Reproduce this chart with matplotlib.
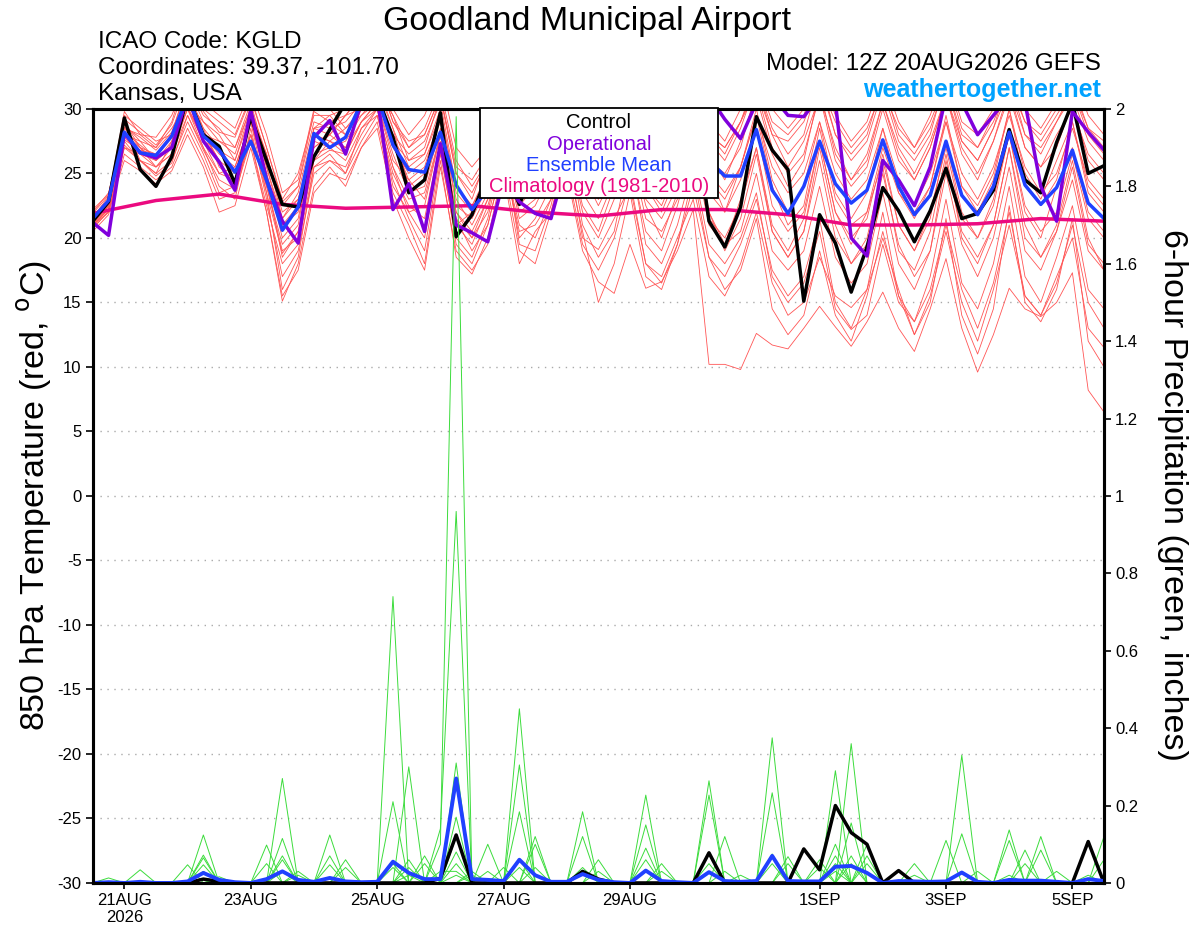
import matplotlib.pyplot as plt
from matplotlib.patches import Rectangle
import numpy as np

plt.rcParams['font.family'] = ['Liberation Sans', 'DejaVu Sans']
plt.rcParams['axes.unicode_minus'] = False

# forecast hours from 12Z 20AUG2026, every 6 h
fhr = np.arange(0, 385, 6)

# 850 hPa temperature (C)
control_t = [21.3, 22.8,
             29.3, 25.3, 24.0, 26.3, 31.0, 28.0, 27.1, 24.2, 29.4, 26.0, 22.6, 22.4,
             26.3, 28.4, 30.5, 31.5, 31.0, 27.8, 23.5, 24.5, 29.7, 20.1, 21.8, 25.0,
             25.5, 22.6, 25.5, 26.5, 27.0, 25.0, 27.5, 28.0, 26.0, 24.5, 27.0, 28.5,
             30.0, 21.3, 19.3, 22.4, 29.4, 26.8, 25.3, 15.1, 21.8, 19.6, 15.8, 19.3,
             23.9, 22.1, 19.7, 22.1, 25.4, 21.5, 21.9, 23.7, 28.4, 24.5, 23.5, 27.4,
             30.5, 25.0, 25.6]
oper_t = [21.2, 20.2,
          28.1, 26.6, 26.2, 27.0, 31.0, 27.5, 25.9, 23.7, 29.9, 24.5, 21.3, 19.6,
          27.8, 29.1, 26.5, 30.5, 31.0, 22.2, 24.2, 20.5, 27.3, 21.0, 20.4, 19.7,
          24.5, 22.8, 21.9, 21.5, 26.0, 28.0, 29.0, 30.5, 29.0, 28.0, 27.5, 29.0,
          30.5, 31.0, 29.2, 27.7, 30.5, 31.0, 29.5, 29.4, 31.0, 30.5, 20.0, 18.6,
          26.0, 24.5, 22.5, 25.5, 31.0, 30.5, 28.0, 29.5, 31.0, 30.5, 24.0, 21.3,
          29.8, 28.2, 26.8]
mean_t = [21.5, 22.9,
          28.2, 26.6, 26.4, 27.9, 31.0, 27.9, 26.8, 25.1, 27.5, 24.5, 20.6, 22.4,
          28.1, 27.0, 27.8, 30.5, 31.0, 27.2, 25.3, 25.1, 28.2, 24.1, 22.2, 23.8,
          25.0, 24.0, 24.5, 25.0, 26.0, 25.5, 26.5, 26.0, 25.5, 25.0, 26.5, 26.0,
          26.5, 26.0, 24.8, 24.8, 28.4, 23.7, 21.9, 24.0, 27.5, 24.2, 22.7, 23.7,
          27.6, 24.0, 21.8, 23.3, 27.5, 23.3, 21.8, 24.0, 28.2, 24.1, 22.6, 23.9,
          26.8, 22.7, 21.5]

# climatology, one value per day at 12Z
clim_hr = np.arange(0, 385, 24)
clim_t = [21.9, 22.9, 23.4, 22.6, 22.3, 22.4, 22.5, 22.0, 21.7,
          22.2, 22.2, 21.8, 21.0, 21.0, 21.1, 21.5, 21.3]

members_t = [
    [21.0, 22.5,
     29.0, 26.0, 25.0, 27.5, 31.5, 28.5, 27.0, 25.0, 29.5, 26.5, 22.0, 23.0,
     27.0, 28.0, 29.5, 31.0, 32.0, 28.5, 24.0, 25.0, 30.0, 21.0, 22.0, 24.0,
     28.0, 23.0, 24.5, 26.0, 29.0, 27.0, 25.0, 28.0, 30.5, 26.0, 24.0, 27.0,
     31.0, 25.0, 22.0, 25.5, 29.5, 24.0, 21.0, 22.5, 28.5, 23.0, 21.0, 22.0,
     27.0, 23.5, 22.0, 24.0, 29.0, 24.0, 22.5, 25.0, 30.0, 25.0, 23.0, 26.0,
     29.0, 24.0, 22.5],
    [21.5, 23.0,
     28.0, 27.5, 27.0, 28.5, 30.5, 29.0, 28.0, 26.0, 30.0, 25.0, 21.0, 22.0,
     28.5, 29.5, 28.0, 30.5, 31.5, 29.5, 26.0, 27.0, 31.0, 25.0, 23.0, 26.5,
     30.5, 25.0, 27.0, 28.5, 31.0, 28.5, 27.0, 29.0, 31.5, 29.0, 27.5, 29.5,
     32.0, 28.0, 27.0, 29.0, 31.5, 28.0, 25.5, 27.5, 31.0, 27.0, 24.5, 26.5,
     30.5, 27.0, 25.0, 27.5, 31.0, 27.5, 26.0, 28.5, 31.5, 28.0, 27.0, 29.0,
     31.0, 27.5, 26.0],
    [20.8, 22.0,
     27.0, 26.5, 26.0, 27.0, 30.0, 28.0, 26.0, 24.0, 28.0, 24.0, 19.0, 20.0,
     26.0, 27.5, 27.0, 29.0, 30.5, 26.0, 24.5, 23.0, 28.0, 22.0, 20.5, 23.0,
     27.0, 22.0, 23.0, 25.0, 28.0, 25.0, 23.0, 26.0, 29.0, 24.0, 22.0, 25.0,
     29.0, 22.0, 19.5, 23.0, 27.0, 21.0, 19.0, 21.5, 27.5, 22.0, 19.5, 22.0,
     26.0, 21.0, 19.0, 22.0, 27.0, 21.5, 20.0, 23.0, 28.0, 22.0, 20.0, 24.0,
     27.0, 22.0, 20.5],
    [22.0, 23.5,
     28.5, 27.0, 25.5, 26.5, 29.5, 27.0, 24.0, 23.0, 28.5, 23.0, 17.0, 19.0,
     25.0, 26.0, 25.5, 28.0, 30.0, 24.0, 22.0, 20.0, 27.0, 19.5, 18.0, 21.0,
     26.0, 21.0, 20.0, 23.0, 25.0, 19.0, 16.6, 15.7, 19.5, 16.1, 16.6, 19.0,
     22.2, 10.2, 10.2, 9.8, 12.6, 11.7, 11.4, 13.0, 14.7, 13.1, 11.6, 13.5,
     15.8, 13.0, 11.2, 14.5, 18.4, 13.0, 9.6, 12.5, 16.1, 14.5, 13.9, 15.0,
     17.3, 8.2, 6.5],
    [21.2, 22.2,
     27.5, 26.0, 25.0, 26.0, 29.0, 26.5, 23.5, 24.0, 27.5, 22.0, 15.1, 18.0,
     24.0, 25.5, 24.0, 27.0, 29.0, 23.5, 21.0, 18.0, 26.0, 18.5, 17.2, 20.0,
     25.5, 19.0, 18.0, 22.0, 27.0, 20.0, 19.1, 21.5, 24.0, 18.0, 17.0, 20.0,
     23.0, 17.0, 15.5, 18.0, 22.0, 16.5, 14.0, 15.0, 18.5, 15.5, 14.6, 16.0,
     20.0, 16.0, 12.5, 15.5, 20.5, 15.0, 12.0, 16.0, 21.0, 15.5, 14.0, 17.0,
     20.0, 13.0, 11.5],
    [21.8, 22.8,
     29.5, 28.5, 27.5, 28.0, 32.0, 29.5, 28.5, 27.0, 30.5, 26.0, 22.5, 24.0,
     29.0, 28.5, 29.0, 30.5, 31.0, 28.0, 26.5, 27.5, 30.5, 24.0, 22.5, 25.0,
     29.5, 24.5, 26.5, 28.0, 30.0, 26.0, 24.0, 26.5, 29.5, 25.0, 23.5, 26.5,
     30.5, 26.0, 25.0, 27.0, 31.5, 27.0, 25.0, 26.5, 31.0, 26.0, 24.0, 25.5,
     30.0, 26.0, 24.5, 27.0, 31.0, 26.5, 24.5, 27.5, 31.5, 27.0, 25.5, 27.0,
     30.5, 26.0, 24.5],
    [21.3, 22.6,
     28.0, 27.0, 26.0, 27.5, 30.5, 28.0, 26.5, 25.5, 29.0, 25.0, 20.0, 21.5,
     27.5, 27.0, 27.5, 29.5, 31.0, 27.0, 25.0, 26.0, 29.0, 23.0, 21.0, 23.5,
     28.0, 23.5, 25.0, 27.0, 29.5, 25.0, 22.5, 25.0, 28.5, 23.0, 21.5, 24.0,
     29.0, 23.5, 22.0, 24.5, 28.5, 22.5, 20.5, 22.0, 27.5, 22.0, 20.0, 21.5,
     26.5, 21.0, 19.0, 21.5, 27.5, 22.0, 20.0, 22.5, 28.0, 22.5, 20.5, 22.0,
     26.5, 21.5, 20.0],
    [21.6, 23.2,
     29.8, 28.0, 27.0, 29.0, 33.0, 30.0, 29.0, 28.0, 31.0, 27.0, 23.0, 25.0,
     29.5, 29.5, 30.0, 31.5, 32.5, 29.0, 27.0, 28.5, 31.5, 26.0, 24.0, 26.0,
     30.5, 26.0, 27.0, 29.0, 31.5, 28.0, 26.0, 28.0, 31.0, 27.0, 25.5, 28.5,
     32.0, 28.0, 26.5, 29.0, 32.5, 29.0, 28.0, 29.5, 33.0, 29.5, 27.5, 29.0,
     32.5, 29.0, 27.0, 29.5, 33.0, 29.0, 28.0, 30.0, 33.5, 30.0, 28.5, 30.5,
     33.0, 29.5, 28.0],
    [20.5, 21.8,
     26.5, 25.5, 24.5, 25.5, 28.5, 26.0, 23.0, 23.5, 27.5, 22.5, 18.0, 19.5,
     25.5, 26.5, 25.0, 28.5, 29.5, 25.0, 22.5, 21.5, 27.5, 21.0, 19.5, 22.5,
     26.5, 20.0, 21.5, 24.0, 27.5, 22.0, 20.0, 23.0, 26.0, 20.5, 19.0, 22.5,
     27.0, 21.0, 19.5, 20.5, 25.0, 19.0, 17.5, 19.0, 24.0, 18.5, 16.5, 18.0,
     23.5, 18.0, 16.0, 19.0, 25.0, 19.5, 17.0, 20.0, 25.5, 19.0, 17.5, 20.5,
     24.5, 19.0, 17.5],
    [21.9, 23.3,
     28.5, 28.0, 27.8, 29.5, 32.5, 30.5, 29.5, 28.5, 31.5, 28.0, 23.5, 24.5,
     30.0, 30.0, 28.5, 30.0, 32.0, 30.0, 28.0, 29.5, 32.5, 27.0, 25.5, 27.0,
     31.0, 27.5, 28.5, 30.0, 32.0, 29.5, 27.0, 29.5, 32.0, 28.5, 27.0, 29.0,
     31.5, 29.0, 27.5, 30.0, 33.0, 30.0, 28.5, 30.0, 32.0, 29.0, 27.0, 28.5,
     31.5, 28.5, 27.0, 29.0, 32.0, 28.0, 27.0, 29.5, 32.5, 29.0, 28.0, 30.0,
     32.0, 28.5, 27.5],
    [21.4, 22.4,
     27.8, 26.5, 25.5, 26.5, 30.0, 27.0, 25.0, 24.5, 28.0, 24.0, 19.5, 21.0,
     28.0, 27.5, 26.5, 29.0, 30.5, 26.5, 23.5, 24.0, 28.5, 22.0, 20.0, 22.0,
     27.5, 22.5, 24.0, 26.0, 28.0, 23.5, 21.5, 24.5, 27.5, 22.5, 20.0, 23.5,
     28.0, 22.0, 19.0, 21.5, 26.5, 20.5, 18.5, 20.5, 27.0, 21.0, 18.0, 19.5,
     25.0, 19.5, 17.0, 19.0, 26.0, 20.5, 18.5, 21.0, 27.0, 21.0, 18.5, 20.5,
     25.5, 19.5, 18.0],
    [21.0, 22.0,
     27.0, 26.0, 25.5, 27.0, 30.0, 27.5, 25.0, 25.5, 29.0, 24.5, 18.5, 20.5,
     26.5, 27.0, 26.0, 28.5, 30.0, 25.5, 23.0, 23.5, 28.0, 21.5, 19.0, 21.0,
     26.0, 20.5, 21.0, 23.0, 25.5, 19.5, 17.5, 20.0, 24.5, 18.0, 16.5, 19.5,
     24.0, 18.5, 17.0, 19.5, 23.0, 17.5, 15.5, 17.0, 21.5, 15.0, 13.0, 16.0,
     22.0, 15.5, 13.5, 17.0, 23.0, 16.5, 14.5, 18.0, 24.0, 17.0, 15.0, 18.5,
     22.5, 16.0, 14.5],
    [22.2, 23.4,
     29.0, 27.0, 26.5, 28.0, 31.0, 28.0, 27.5, 27.0, 30.0, 26.5, 21.5, 23.5,
     28.5, 28.0, 29.5, 30.0, 32.5, 29.0, 27.5, 28.0, 31.0, 25.0, 23.5, 26.0,
     30.0, 26.5, 26.0, 29.0, 31.0, 27.0, 25.5, 28.5, 31.5, 28.0, 26.0, 28.0,
     31.0, 27.5, 26.0, 28.5, 32.0, 28.5, 26.5, 28.0, 32.5, 28.0, 26.0, 27.5,
     31.5, 27.5, 26.0, 28.0, 32.5, 28.5, 27.0, 29.0, 32.0, 29.0, 27.5, 29.5,
     31.5, 28.5, 27.0],
    [20.9, 22.3,
     28.2, 27.2, 26.2, 27.2, 30.8, 28.2, 26.0, 25.0, 29.2, 24.5, 20.5, 22.5,
     27.0, 28.0, 27.0, 30.0, 31.5, 27.5, 24.5, 25.5, 29.5, 22.5, 21.5, 24.0,
     28.5, 24.0, 25.5, 27.5, 29.0, 24.5, 23.0, 26.0, 29.0, 24.0, 22.5, 25.5,
     29.5, 24.5, 23.0, 25.5, 30.0, 24.5, 22.0, 24.0, 29.0, 23.5, 21.5, 23.5,
     28.5, 23.5, 21.5, 24.0, 29.5, 24.0, 22.0, 24.5, 30.0, 24.0, 22.5, 24.5,
     29.0, 23.5, 22.0],
    [21.7, 22.9,
     28.8, 27.5, 26.0, 27.0, 31.0, 28.5, 25.5, 24.5, 29.0, 23.5, 16.0, 18.5,
     25.5, 26.0, 25.0, 27.5, 29.5, 24.5, 21.5, 19.0, 26.5, 20.0, 18.5, 21.5,
     27.0, 19.5, 19.0, 22.5, 28.0, 21.0, 18.5, 20.5, 26.5, 19.5, 18.0, 21.0,
     25.5, 19.5, 18.0, 20.0, 23.5, 17.0, 15.0, 16.5, 20.5, 14.5, 12.9, 14.0,
     19.5, 15.0, 13.5, 16.0, 21.0, 16.0, 13.0, 16.5, 22.0, 15.5, 14.0, 16.5,
     21.0, 15.0, 13.0],
    [21.1, 22.7,
     28.6, 27.8, 26.8, 28.2, 31.8, 29.0, 27.5, 26.5, 30.2, 25.5, 21.0, 22.5,
     28.5, 28.8, 28.0, 30.0, 31.5, 28.5, 25.5, 26.5, 30.0, 23.5, 22.0, 24.5,
     29.5, 25.0, 26.0, 28.5, 30.5, 26.5, 24.5, 27.5, 30.5, 26.0, 24.5, 27.0,
     30.0, 26.5, 24.5, 27.5, 31.0, 26.5, 24.0, 26.0, 31.5, 26.5, 24.5, 26.0,
     30.5, 26.5, 24.5, 27.0, 31.0, 27.0, 25.0, 27.5, 31.0, 27.0, 25.5, 28.0,
     30.0, 26.5, 25.0],
    [20.7, 22.1,
     27.2, 26.0, 24.8, 25.8, 29.5, 26.8, 24.5, 23.8, 28.0, 23.5, 18.8, 20.5,
     26.0, 26.8, 26.5, 29.0, 30.0, 25.5, 22.0, 22.5, 28.0, 21.5, 20.0, 23.0,
     27.0, 21.5, 22.5, 25.0, 27.5, 22.5, 20.5, 24.0, 27.0, 21.5, 20.5, 23.0,
     27.5, 21.5, 20.0, 22.5, 27.0, 20.5, 18.5, 20.5, 26.0, 20.0, 18.0, 20.0,
     25.5, 19.0, 17.5, 20.5, 26.5, 20.0, 18.0, 21.0, 27.0, 20.0, 18.5, 21.0,
     26.0, 20.0, 17.5],
    [21.5, 22.8,
     29.2, 28.2, 27.2, 28.8, 32.2, 29.8, 28.2, 27.8, 30.8, 27.0, 22.8, 24.0,
     29.8, 29.0, 29.5, 31.0, 32.0, 29.5, 27.0, 28.0, 31.0, 25.5, 24.5, 26.5,
     30.0, 26.0, 27.5, 29.5, 31.5, 28.5, 26.5, 29.0, 31.0, 27.5, 26.5, 29.5,
     31.5, 28.0, 27.0, 29.0, 32.0, 28.0, 27.5, 29.0, 32.0, 28.0, 26.5, 28.0,
     32.0, 28.0, 26.5, 28.5, 32.0, 27.5, 26.0, 28.5, 32.5, 28.0, 26.5, 29.0,
     31.5, 28.0, 26.5],
    [21.2, 22.5,
     27.6, 26.8, 26.5, 27.8, 30.2, 27.5, 26.8, 26.0, 29.5, 25.5, 21.5, 23.0,
     28.0, 27.5, 28.5, 29.5, 30.5, 27.5, 26.0, 26.5, 29.5, 24.0, 22.5, 24.5,
     28.5, 24.5, 25.5, 27.0, 29.0, 25.5, 23.5, 26.5, 28.5, 25.0, 23.0, 26.0,
     29.0, 25.0, 23.5, 25.5, 29.5, 25.5, 23.5, 25.0, 29.0, 25.0, 23.0, 24.5,
     28.5, 24.5, 22.5, 25.0, 29.0, 25.0, 23.0, 25.5, 29.5, 25.5, 23.5, 25.0,
     28.5, 24.5, 23.0],
    [21.0, 22.2,
     26.0, 25.2, 24.2, 25.2, 28.0, 25.5, 22.0, 22.5, 27.0, 22.0, 15.5, 17.5,
     23.5, 25.0, 24.5, 27.0, 28.5, 23.0, 20.0, 17.5, 25.5, 19.0, 17.5, 19.5,
     25.0, 18.0, 20.5, 22.0, 26.0, 20.5, 15.0, 18.0, 23.5, 17.0, 16.0, 19.5,
     25.0, 18.5, 16.0, 17.5, 21.5, 14.5, 12.5, 14.0, 19.0, 14.0, 12.0, 15.5,
     20.5, 15.5, 12.5, 15.0, 21.5, 14.0, 11.0, 14.5, 22.5, 15.0, 13.5, 16.0,
     21.5, 12.0, 10.0],
]

# 6-hour precipitation (inches)
control_p = [0, 0, 0, 0, 0, 0, 0, 0.01, 0.004, 0, 0, 0, 0,
             0, 0, 0, 0, 0, 0, 0, 0, 0, 0.012, 0.124, 0, 0,
             0, 0, 0, 0, 0, 0.03, 0.01, 0, 0, 0, 0, 0, 0,
             0.078, 0, 0, 0, 0, 0, 0.088, 0.034, 0.2, 0.13, 0.1, 0, 0.032,
             0, 0, 0, 0, 0, 0, 0, 0, 0, 0, 0, 0.107, 0]
mean_p = [0, 0.002, 0, 0.003, 0, 0, 0.004, 0.026, 0.008, 0.002, 0, 0.01, 0.03,
          0.008, 0.003, 0.013, 0.004, 0.002, 0.003, 0.055, 0.026, 0.01, 0.01, 0.27, 0.01, 0.008,
          0.005, 0.06, 0.02, 0.003, 0.003, 0.023, 0.008, 0.002, 0, 0.032, 0.005, 0.002, 0,
          0.028, 0.005, 0.003, 0.005, 0.07, 0.005, 0.004, 0.004, 0.042, 0.044, 0.026, 0, 0.005,
          0.004, 0.003, 0.004, 0.027, 0.003, 0, 0.008, 0.006, 0.006, 0.003, 0, 0.01, 0.005]

members_p = [
    [0, 0, 0, 0, 0, 0, 0, .124, 0, 0, 0, 0, .27,
     0, 0, 0, 0, 0, 0, .74, 0, 0, 0, .05, 0, 0,
     0, .06, 0, 0, 0, 0, 0, 0, 0, .227, 0, 0, 0,
     0, 0, 0, 0, .05, 0, 0, 0, 0, .36, 0, 0, 0,
     0, 0, 0, .03, 0, 0, 0, 0, .12, 0, 0, 0, 0],
    [0, 0, 0, 0, 0, 0, 0, .072, 0, 0, 0, .098, 0,
     0, 0, 0, 0, 0, 0, 0, .30, 0, .10, 1.98, 0, 0,
     0, 0, .12, 0, 0, 0, 0, 0, 0, 0, 0, 0, 0,
     .264, 0, 0, 0, 0, 0, 0, 0, .29, 0, 0, 0, 0,
     0, 0, 0, 0, 0, 0, .137, 0, 0, 0, 0, 0, .12],
    [0, 0, 0, .034, 0, 0, 0, 0, 0, 0, 0, 0, .115,
     0, 0, 0, 0, 0, 0, 0, 0, 0, .14, .96, 0, 0,
     0, .45, 0, 0, 0, .184, 0, 0, 0, 0, 0, 0, 0,
     0, 0, 0, 0, .375, 0, 0, 0, 0, 0, .10, 0, 0,
     0, 0, 0, .33, 0, 0, 0, 0, 0, 0, 0, 0, 0],
    [0, 0, 0, 0, 0, 0, 0, .065, 0, 0, 0, 0, 0,
     0, 0, .124, 0, 0, 0, .21, 0, 0, 0, .31, 0, 0,
     0, .305, 0, 0, 0, 0, 0, 0, 0, .15, 0, 0, 0,
     0, 0, 0, 0, 0, .068, 0, 0, 0, .155, 0, 0, 0,
     0, 0, 0, 0, 0, 0, 0, .085, 0, 0, 0, 0, 0],
    [0, 0, 0, 0, 0, 0, .047, 0, 0, 0, 0, 0, .07,
     0, 0, 0, 0, 0, 0, 0, .06, 0, 0, .17, 0, .10,
     0, 0, 0, 0, 0, .12, 0, 0, 0, 0, 0, 0, 0,
     .227, 0, 0, 0, .233, 0, 0, 0, 0, 0, 0, 0, 0,
     0, 0, .11, 0, 0, 0, 0, 0, .085, 0, 0, 0, 0],
    [0, 0, 0, 0, 0, 0, 0, 0, .016, 0, 0, 0, 0,
     0, 0, .07, 0, 0, 0, 0, 0, .07, 0, .12, 0, 0,
     0, .184, 0, 0, 0, 0, 0, 0, 0, 0, .05, 0, 0,
     0, .12, 0, 0, 0, 0, 0, 0, .10, 0, 0, 0, 0,
     .05, 0, 0, 0, 0, 0, 0, 0, 0, 0, 0, 0, .06],
    [0, 0, 0, 0, 0, 0, 0, .047, 0, 0, 0, 0, 0,
     .03, 0, 0, .06, 0, 0, 0, 0, 0, 0, .08, 0, 0,
     0, 0, .10, 0, 0, 0, 0, 0, 0, .09, 0, 0, 0,
     0, 0, 0, 0, 0, 0, 0, .06, 0, 0, .07, 0, 0,
     0, 0, 0, 0, 0, 0, .11, 0, 0, 0, 0, 0, 0],
    [0, .013, 0, 0, 0, 0, 0, 0, 0, 0, 0, .05, 0,
     0, 0, 0, 0, 0, 0, .05, 0, 0, 0, 0, .03, 0,
     0, .04, 0, 0, 0, 0, .06, 0, 0, 0, 0, 0, 0,
     0, 0, 0, 0, .075, 0, 0, 0, .07, 0, 0, 0, 0,
     0, 0, 0, .127, 0, 0, 0, 0, 0, .03, 0, 0, 0],
    [0, 0, 0, 0, 0, 0, 0, 0, 0, 0, 0, 0, .06,
     0, 0, .047, 0, 0, 0, 0, 0, 0, .03, .03, 0, 0,
     .04, 0, 0, 0, 0, 0, 0, 0, 0, .06, 0, 0, 0,
     .05, 0, 0, 0, 0, 0, 0, 0, 0, .07, 0, 0, 0,
     0, 0, 0, 0, .03, 0, 0, .05, 0, 0, 0, 0, 0],
    [0, 0, 0, 0, 0, 0, 0, .03, 0, 0, 0, 0, 0,
     0, 0, 0, .04, 0, 0, 0, .04, 0, 0, 0, 0, .03,
     0, 0, .04, 0, 0, .04, 0, 0, 0, 0, 0, 0, 0,
     0, 0, .02, 0, 0, .05, 0, 0, 0, 0, .05, 0, .03,
     0, 0, 0, 0, 0, 0, 0, 0, 0, 0, 0, 0, 0],
    [0, 0, 0, 0, 0, 0, 0, 0, .01, 0, 0, 0, .03,
     0, 0, 0, 0, 0, 0, .04, 0, .05, 0, 0, .02, 0,
     0, 0, 0, 0, 0, 0, .03, 0, 0, 0, .03, 0, 0,
     0, 0, 0, 0, 0, 0, 0, .04, 0, .05, 0, 0, 0,
     0, 0, 0, 0, 0, 0, 0, 0, 0, 0, 0, .02, 0],
    [0, 0, 0, 0, 0, 0, 0, 0, 0, 0, 0, 0, 0,
     .02, 0, 0, 0, 0, 0, 0, .02, 0, 0, 0, 0, 0,
     0, 0, 0, 0, 0, 0, 0, 0, 0, 0, 0, 0, 0,
     0, .03, 0, 0, 0, 0, 0, 0, .05, 0, 0, 0, 0,
     .02, 0, 0, 0, 0, 0, .02, 0, 0, 0, 0, 0, 0],
    [0, 0, 0, 0, 0, 0, 0, 0, 0, 0, 0, 0, 0,
     0, 0, 0, 0, 0, 0, 0, 0, 0, 0, .02, 0, 0,
     0, 0, 0, 0, 0, 0, 0, 0, 0, 0, 0, 0, 0,
     0, 0, 0, 0, 0, 0, 0, 0, .03, 0, 0, 0, 0,
     0, 0, 0, 0, 0, 0, 0, 0, 0, 0, 0, 0, 0],
]

tick_hr = [12, 60, 108, 156, 204, 276, 324, 372]
tick_lbl = ['21AUG\n2026', '23AUG', '25AUG', '27AUG', '29AUG', '1SEP', '3SEP', '5SEP']
precip_ticks = [0, 0.2, 0.4, 0.6, 0.8, 1, 1.2, 1.4, 1.6, 1.8, 2]

RED = '#ff5555'
GREEN = '#3cdc3c'
PURPLE = '#8000dc'
BLUE = '#2040ff'
MAGENTA = '#eb0a80'

fig = plt.figure(figsize=(12, 9.27), dpi=100)
ax = fig.add_axes([0.0773, 0.0475, 0.8427, 0.835])
ax2 = ax.twinx()

# temperature
for m in members_t:
    ax.plot(fhr, m, color=RED, lw=0.6)
ax.plot(clim_hr, clim_t, color=MAGENTA, lw=2.5)
ax.plot(fhr, control_t, color='black', lw=2.5)
ax.plot(fhr, oper_t, color=PURPLE, lw=2.5)
ax.plot(fhr, mean_t, color=BLUE, lw=2.5)

# precipitation
for m in members_p:
    ax2.plot(fhr, m, color=GREEN, lw=0.7)
ax2.plot(fhr, control_p, color='black', lw=2.5)
ax2.plot(fhr, mean_p, color=BLUE, lw=2.8)

ax.set_xlim(0, 384)
ax.set_ylim(-30, 30)
ax2.set_ylim(0, 2)
ax.set_yticks(range(-30, 31, 5))
ax.yaxis.grid(True, linestyle=(0, (1, 4)), color='#aaaaaa', lw=1)
ax.set_xticks(tick_hr)
ax.set_xticklabels(tick_lbl)
ax2.set_yticks(precip_ticks)
ax2.set_yticklabels(['%g' % v for v in precip_ticks])

ax.tick_params(axis='y', direction='out', length=5, width=1.2, labelsize=12, pad=3)
ax.tick_params(axis='x', direction='out', length=4, width=1.2, labelsize=12, pad=3)
ax2.tick_params(axis='y', direction='out', length=5, width=1.2, labelsize=12, pad=3)
for a in (ax, ax2):
    for sp in a.spines.values():
        sp.set_linewidth(2.2)

# legend box
ax2.add_patch(Rectangle((0.383, 0.885), 0.235, 0.116, transform=ax2.transAxes,
                        facecolor='white', edgecolor='black', lw=1.3,
                        zorder=10, clip_on=False))
leg_items = [('Control', 'black'), ('Operational', PURPLE),
             ('Ensemble Mean', BLUE), ('Climatology (1981-2010)', MAGENTA)]
for k, (txt, col) in enumerate(leg_items):
    ax2.text(0.5006, 0.982 - k * 0.0275, txt, color=col, fontsize=14.5,
             ha='center', va='center', transform=ax2.transAxes, zorder=11)

# header
fig.text(0.489, 0.977, 'Goodland Municipal Airport', fontsize=24.5,
         ha='center', va='center')
fig.text(0.0817, 0.9545, 'ICAO Code: KGLD', fontsize=17.5, va='center')
fig.text(0.0817, 0.9265, 'Coordinates: 39.37, -101.70', fontsize=17.5, va='center')
fig.text(0.0817, 0.8985, 'Kansas, USA', fontsize=17.5, va='center')
fig.text(0.9175, 0.931, 'Model: 12Z 20AUG2026 GEFS', fontsize=17.5,
         ha='right', va='center')
fig.text(0.9175, 0.903, 'weathertogether.net', fontsize=18, fontweight='bold',
         color='#00a2ff', ha='right', va='center')

fig.text(0.029, 0.466, r'850 hPa Temperature (red, $^{\mathrm{o}}$C)', fontsize=24.5,
         rotation=90, ha='center', va='center')
fig.text(0.977, 0.466, '6-hour Precipitation (green, inches)', fontsize=24.5,
         rotation=270, ha='center', va='center')

fig.savefig('out.png', dpi=100)
